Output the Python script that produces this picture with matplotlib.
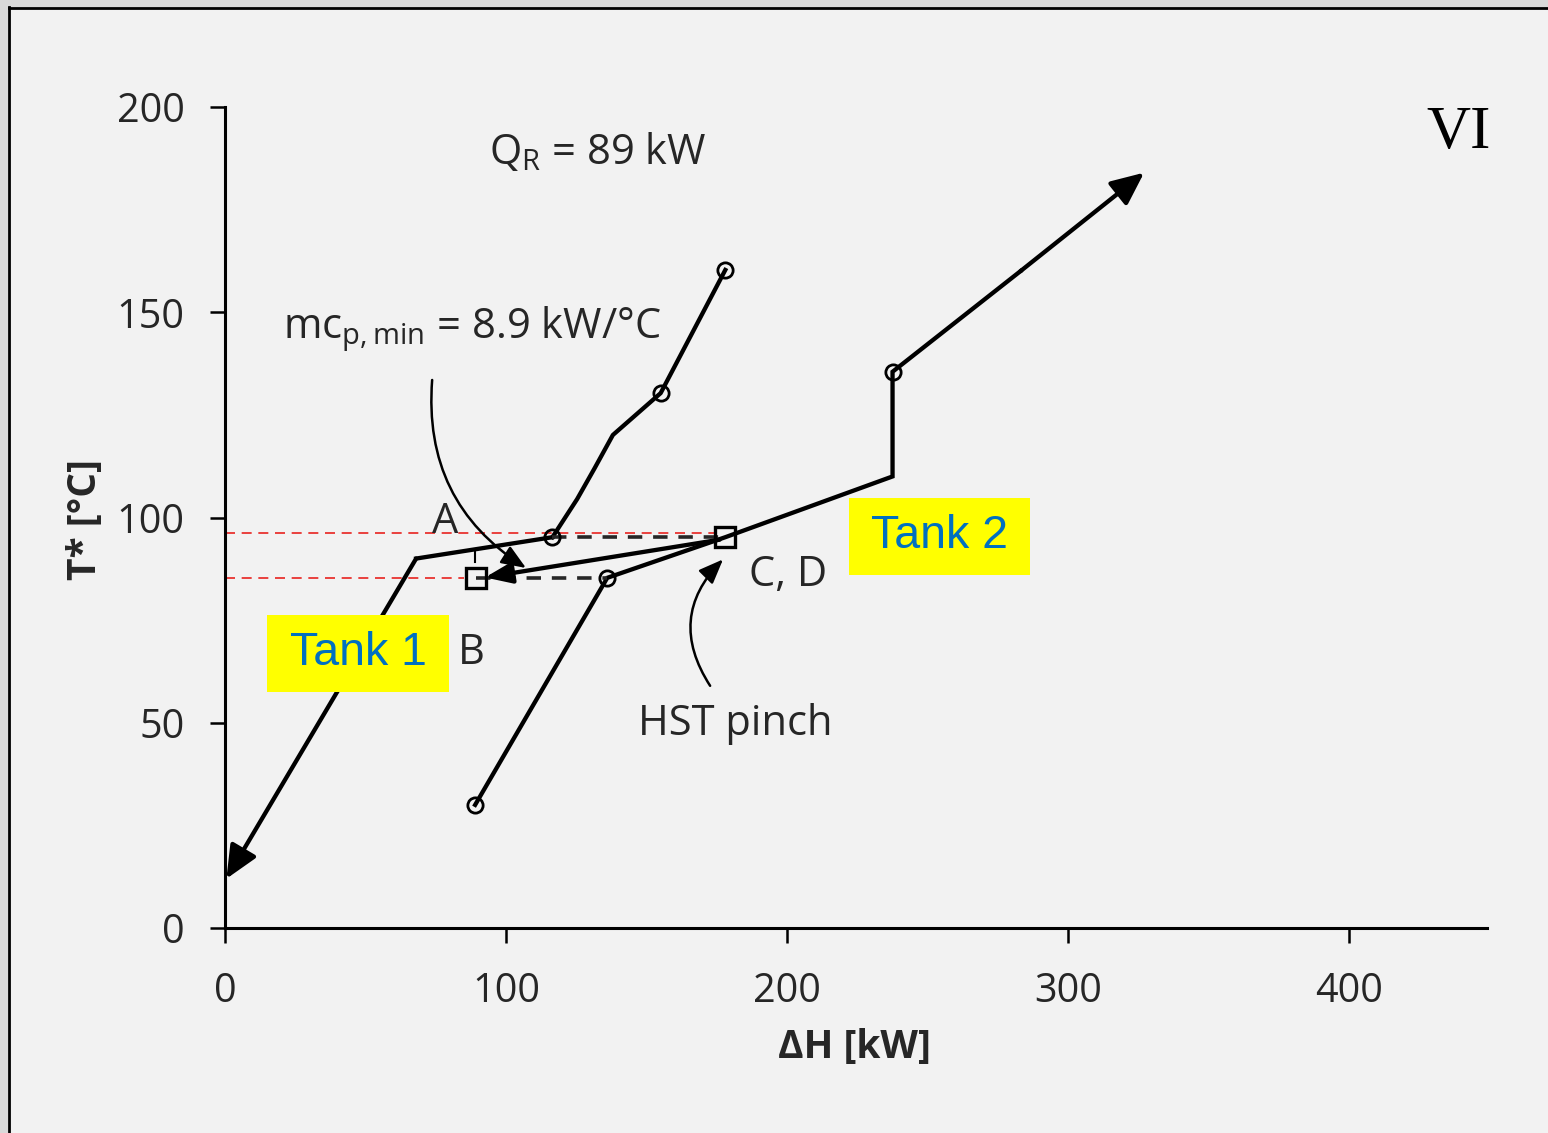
import matplotlib
matplotlib.use("Agg")
import matplotlib.pyplot as plt
from matplotlib.patches import Rectangle

plt.rcParams['font.family'] = ['Open Sans', 'DejaVu Sans']
plt.rcParams['mathtext.fontset'] = 'custom'
plt.rcParams['mathtext.rm'] = 'Open Sans'
plt.rcParams['mathtext.it'] = 'Open Sans'

# composite curves (dH [kW], T* [degC])
hot_H = [0.5, 68, 116.5]
hot_T = [12, 90, 95.2]
cold1_H = [116.5, 125.3, 131.5, 138, 155, 178]
cold1_T = [95.2, 104.5, 112.0, 120.1, 130.3, 160.3]
cold2_H = [89, 136, 178, 237.5, 237.5, 283, 327]
cold2_T = [30, 85.3, 95.2, 110, 135.5, 160, 184]

circle_H = [116.5, 155, 178, 89, 136, 237.5]
circle_T = [95.2, 130.3, 160.3, 30, 85.3, 135.5]
square_H = [89.3, 178]
square_T = [85.2, 95.2]

red_levels = [96.2, 85.2]
red_ends = [174, 85]

x_ticks = [0, 100, 200, 300, 400]
y_ticks = [0, 50, 100, 150, 200]

bg = '#f2f2f2'
txt = '#262626'

fig = plt.figure(figsize=(15.48, 11.33), dpi=100, facecolor=bg)
ax = fig.add_axes([225 / 1548, 1 - 928 / 1133, (1487 - 225) / 1548, (928 - 107) / 1133])
ax.set_facecolor(bg)

# window-like frame
fig.patches.append(Rectangle((0, 0), 7 / 1548, 1, transform=fig.transFigure, color='#d9d9d9', zorder=0))
fig.patches.append(Rectangle((0, 1 - 7 / 1133), 1, 7 / 1133, transform=fig.transFigure, color='#d9d9d9', zorder=0))
fig.lines.append(plt.Line2D([8.5 / 1548, 8.5 / 1548], [0, 1 - 7 / 1133], transform=fig.transFigure, color='black', lw=2))
fig.lines.append(plt.Line2D([8.5 / 1548, 1], [1 - 7.5 / 1133, 1 - 7.5 / 1133], transform=fig.transFigure, color='black', lw=2))

lw = 3.1
# red guide lines
for lvl, end in zip(red_levels, red_ends):
    ax.plot([0, end], [lvl, lvl], color='#e8231f', lw=1.2, ls=(0, (6, 4)), zorder=2)

ax.plot(hot_H[1:], hot_T[1:], color='black', lw=lw, zorder=3, solid_joinstyle='miter')
ax.plot(cold1_H, cold1_T, color='black', lw=lw, zorder=3)
ax.plot(cold2_H[:-1], cold2_T[:-1], color='black', lw=lw, zorder=3, solid_joinstyle='miter')

# end segments with arrow heads
head = '-|>,head_length=1.0,head_width=0.45'
ax.annotate('', xy=(hot_H[0], hot_T[0]), xytext=(hot_H[1], hot_T[1]),
            arrowprops=dict(arrowstyle=head, color='black', lw=lw,
                            mutation_scale=20, shrinkA=0, shrinkB=0), zorder=3)
ax.annotate('', xy=(cold2_H[-1], cold2_T[-1]), xytext=(cold2_H[-2], cold2_T[-2]),
            arrowprops=dict(arrowstyle=head, color='black', lw=lw,
                            mutation_scale=20, shrinkA=0, shrinkB=0), zorder=3)

# dashed links A-C and B-(136,85)
ax.plot([circle_H[0], square_H[1]], [95.2, 95.2], color='#262626', lw=2.6, ls=(0, (4, 3)), zorder=3)
ax.plot([square_H[0], circle_H[4]], [85.3, 85.3], color='#262626', lw=2.6, ls=(0, (4, 3)), zorder=3)

# C -> B arrow
ax.annotate('', xy=(92.5, 85.4), xytext=(176, 94.6),
            arrowprops=dict(arrowstyle='-|>,head_length=0.9,head_width=0.35', color='black',
                            lw=lw, mutation_scale=18, shrinkA=0, shrinkB=0), zorder=3)
ax.plot([89, 89], [89.2, 91.6], color='black', lw=1.5, zorder=3)

ax.plot(circle_H, circle_T, ls='none', marker='o', ms=11, mfc='none', mec='black', mew=2, zorder=4)
ax.plot(square_H, square_T, ls='none', marker='s', ms=15, mfc='none', mec='black', mew=2.4, zorder=4)

# curved annotation arrows
thin_head = '-|>,head_length=1.0,head_width=0.4'
ax.annotate('', xy=(107.1, 87.7), xytext=(73.7, 133.5),
            arrowprops=dict(arrowstyle=thin_head, color='black', lw=1.8, mutation_scale=15,
                            shrinkA=0, shrinkB=0, connectionstyle='arc3,rad=0.3'), zorder=3)
ax.annotate('', xy=(177.2, 89.8), xytext=(172.6, 59),
            arrowprops=dict(arrowstyle=thin_head, color='black', lw=1.8, mutation_scale=15,
                            shrinkA=0, shrinkB=0, connectionstyle='arc3,rad=-0.4'), zorder=3)

# texts
fs = 30
ax.text(132.7, 189, r'Q$_\mathrm{R}$ = 89 kW', fontsize=fs, color=txt, ha='center', va='center')
ax.text(20.6, 146, r'mc$_\mathrm{p,min}$ = 8.9 kW/°C', fontsize=fs, color=txt, ha='left', va='center')
ax.text(78.3, 99, 'A', fontsize=fs, color=txt, ha='center', va='center')
ax.text(87.5, 67, 'B', fontsize=fs, color=txt, ha='center', va='center')
ax.text(186.5, 86, 'C, D', fontsize=fs, color=txt, ha='left', va='center')
ax.text(181.5, 49.7, 'HST pinch', fontsize=fs, color=txt, ha='center', va='center')
ax.text(438.8, 193.5, 'VI', fontsize=44, color='black', ha='center', va='center',
        family=['Liberation Serif', 'DejaVu Serif'])

# tank labels
for (x0, x1, y0, y1, label) in [(14.9, 79.7, 57.5, 76.3, 'Tank 1'), (222.1, 286.5, 86.0, 104.75, 'Tank 2')]:
    ax.add_patch(Rectangle((x0, y0), x1 - x0, y1 - y0, facecolor='#ffff00', edgecolor='none', zorder=5))
    ax.text((x0 + x1) / 2, (y0 + y1) / 2, label, fontsize=33.5, color='#0070c0', ha='center', va='center',
            family=['Liberation Sans', 'DejaVu Sans'], zorder=6)

ax.set_xlim(0, 449)
ax.set_ylim(0, 200)
ax.set_xticks(x_ticks)
ax.set_yticks(y_ticks)
ax.tick_params(direction='out', length=11, width=1.8, labelsize=28.5, labelcolor=txt, pad=18)
ax.tick_params(axis='x', pad=20)
for s in ['top', 'right']:
    ax.spines[s].set_visible(False)
for s in ['left', 'bottom']:
    ax.spines[s].set_linewidth(2.2)

fig.text(855 / 1548, 1 - 1047 / 1133, 'ΔH [kW]', fontsize=28, fontweight='bold', color=txt,
         ha='center', va='center')
fig.text(85 / 1548, 1 - 520 / 1133, 'T* [°C]', fontsize=28, fontweight='bold', color=txt,
         ha='center', va='center', rotation=90)

fig.savefig('out.png', dpi=100, facecolor=bg)
